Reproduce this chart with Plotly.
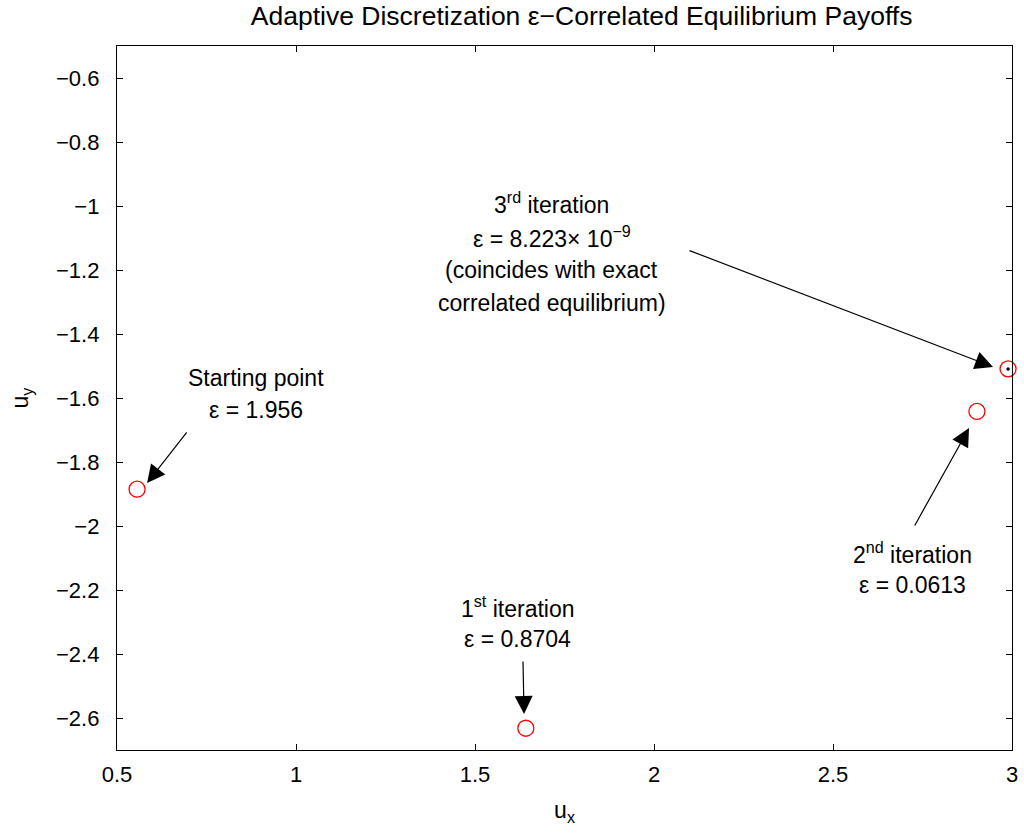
import plotly.graph_objects as go

# Data
ux = [0.556, 1.642, 2.902, 2.989]
uy = [-1.885, -2.632, -1.642, -1.509]
exact_x = [2.989]
exact_y = [-1.509]

label_lines = [
    ["Starting point", "ε = 1.956"],
    ["1<sup>st</sup> iteration", "ε = 0.8704"],
    ["2<sup>nd</sup> iteration", "ε = 0.0613"],
    ["3<sup>rd</sup> iteration", "ε = 8.223× 10<sup>−9</sup>",
     "(coincides with exact", "correlated equilibrium)"],
]
label_x = [0.888, 1.620, 2.721, 1.715]
label_line_y = [
    [-1.5375, -1.6375],
    [-2.253, -2.353],
    [-2.084, -2.184],
    [-0.9906, -1.0969, -1.200, -1.303],
]
# arrow tails (data coords) and heads
arrow_tail_x = [0.698, 1.634, 2.726, 2.095]
arrow_tail_y = [-1.703, -2.419, -2.003, -1.1375]
arrow_head_x = [0.584, 1.637, 2.880, 2.947]
arrow_head_y = [-1.866, -2.5875, -1.694, -1.503]

FONT = "Liberation Sans, Arial, Helvetica, sans-serif"

fig = go.Figure()
fig.add_trace(go.Scatter(
    x=ux, y=uy, mode="markers", cliponaxis=False,
    marker=dict(symbol="circle-open", size=16, color="red", line=dict(width=1.3, color="red")),
    showlegend=False, hoverinfo="skip"))
fig.add_trace(go.Scatter(
    x=exact_x, y=exact_y, mode="markers", cliponaxis=False,
    marker=dict(symbol="circle", size=3.5, color="black"),
    showlegend=False, hoverinfo="skip"))

annotations = []
for tx, ty, hx, hy in zip(arrow_tail_x, arrow_tail_y, arrow_head_x, arrow_head_y):
    annotations.append(dict(
        x=hx, y=hy, ax=tx, ay=ty, xref="x", yref="y", axref="x", ayref="y",
        text="", showarrow=True, arrowhead=2, arrowsize=3, arrowwidth=1.2,
        arrowcolor="black"))
for lines, lx, lys in zip(label_lines, label_x, label_line_y):
    for t, ly in zip(lines, lys):
        annotations.append(dict(
            x=lx, y=ly, xref="x", yref="y", text=t, showarrow=False,
            font=dict(family=FONT, size=23, color="black"), align="center",
            xanchor="center", yanchor="middle"))

fig.update_layout(
    width=1024, height=834,
    margin=dict(l=117, r=12, t=46, b=84),
    paper_bgcolor="white", plot_bgcolor="white",
    font=dict(family=FONT, size=22, color="black"),
    title=dict(text="Adaptive Discretization ε−Correlated Equilibrium Payoffs",
               x=0.568, xanchor="center", y=1 - 16 / 834, yanchor="middle",
               font=dict(family=FONT, size=26.5, color="black")),
    annotations=annotations,
)
fig.update_xaxes(
    range=[0.5, 3], tickvals=[0.5, 1, 1.5, 2, 2.5, 3],
    ticktext=["0.5", "1", "1.5", "2", "2.5", "3"],
    ticks="inside", ticklen=6, tickwidth=1, tickcolor="black",
    showline=True, linecolor="black", linewidth=1.3, mirror="ticks",
    showgrid=False, zeroline=False, ticklabelstandoff=4, automargin=False,
    title=dict(text="u<sub>x</sub>", font=dict(family=FONT, size=23), standoff=16),
    tickfont=dict(family=FONT, size=22))
fig.update_yaxes(
    range=[-2.7, -0.5],
    tickvals=[-2.6, -2.4, -2.2, -2, -1.8, -1.6, -1.4, -1.2, -1, -0.8, -0.6],
    ticktext=["−2.6", "−2.4", "−2.2", "−2", "−1.8", "−1.6", "−1.4", "−1.2", "−1", "−0.8", "−0.6"],
    ticks="inside", ticklen=6, tickwidth=1, tickcolor="black",
    showline=True, linecolor="black", linewidth=1.3, mirror="ticks",
    showgrid=False, zeroline=False, ticklabelstandoff=12, automargin=False,
    title=dict(text="u<sub>y</sub>", font=dict(family=FONT, size=23), standoff=20),
    tickfont=dict(family=FONT, size=22))

fig.write_html("out.html", config={"displayModeBar": False},
               post_script="document.body.style.margin='0px';document.body.style.overflow='hidden';")
